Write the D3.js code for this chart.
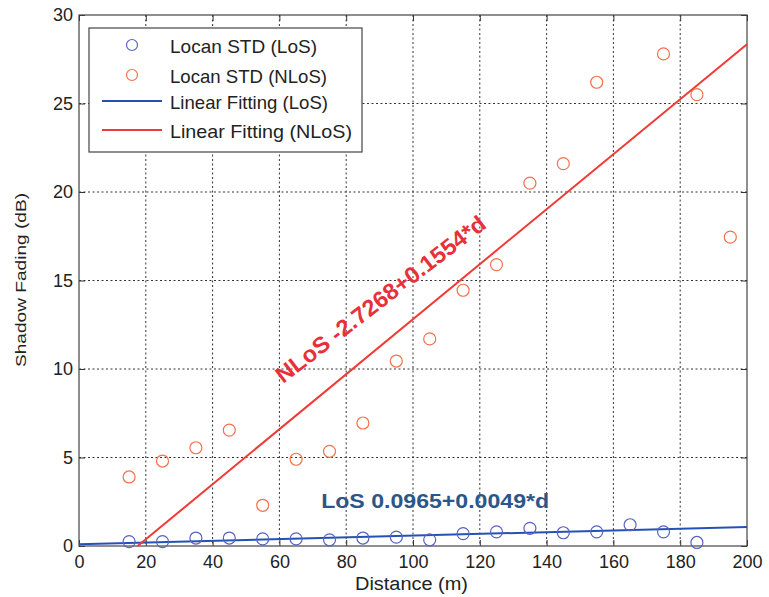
<!DOCTYPE html>
<html><head><meta charset="utf-8">
<script src="https://cdn.jsdelivr.net/npm/d3@7"></script>
<style>body{margin:0;background:#fff}svg{display:block}</style>
</head><body><svg id="c" width="769" height="597"></svg>
<script>
const distances = [15,25,35,45,55,65,75,85,95,105,115,125,135,145,155,165,175,185,195];
const losStd =  [0.25,0.25,0.45,0.45,0.4,0.4,0.35,0.45,0.5,0.35,0.7,0.8,1.0,0.75,0.8,1.2,0.8,0.2,null];
const nlosStd = [3.9,4.8,5.55,6.55,2.3,4.9,5.35,6.95,10.45,11.7,14.45,15.9,20.5,21.6,26.2,null,27.8,25.5,17.45];
const losFit = [0.0965, 0.0049];
const nlosFit = [-2.7268, 0.1554];
const xTicks = [0,20,40,60,80,100,120,140,160,180,200];
const yTicks = [0,5,10,15,20,25,30];
const legendLabels = ["Locan STD (LoS)","Locan STD (NLoS)","Linear Fitting (LoS)","Linear Fitting (NLoS)"];
const nlosLabel = "NLoS -2.7268+0.1554*d";
const losLabel = "LoS 0.0965+0.0049*d";

const svg = d3.select("#c");
const L=79,R=747,T=15,B=546;
const x = d3.scaleLinear().domain([0,200]).range([L,R]);
const y = d3.scaleLinear().domain([0,30]).range([B,T]);
const font = "Liberation Sans, Arial, sans-serif";
const blueM="#5662c4", redM="#f2714f", blueL="#2452b4", redL="#f03a34";

// grid
const g = svg.append("g");
g.selectAll(".gx").data(xTicks.slice(1,-1)).join("line")
 .attr("x1",d=>x(d)).attr("x2",d=>x(d)).attr("y1",T).attr("y2",B)
 .attr("stroke","#333").attr("stroke-width",1).attr("stroke-dasharray","2,2.5");
g.selectAll(".gy").data(yTicks.slice(1,-1)).join("line")
 .attr("y1",d=>y(d)).attr("y2",d=>y(d)).attr("x1",L).attr("x2",R)
 .attr("stroke","#333").attr("stroke-width",1).attr("stroke-dasharray","2,2.5");

// axes
const ax = svg.append("g").attr("transform",`translate(0,${B})`)
 .call(d3.axisBottom(x).tickValues(xTicks).tickSize(-6).tickPadding(9).tickFormat(d3.format("d")));
const ay = svg.append("g").attr("transform",`translate(${L},0)`)
 .call(d3.axisLeft(y).tickValues(yTicks).tickSize(-6).tickPadding(6).tickFormat(d3.format("d")));
svg.append("g").attr("transform",`translate(0,${T})`)
 .call(d3.axisTop(x).tickValues(xTicks).tickSize(-6).tickFormat(""));
svg.append("g").attr("transform",`translate(${R},0)`)
 .call(d3.axisRight(y).tickValues(yTicks).tickSize(-6).tickFormat(""));
svg.selectAll(".domain").remove();
svg.selectAll(".tick line").attr("stroke","#333");
[ax,ay].forEach(a=>a.selectAll("text").attr("font-family",font).attr("font-size",18).attr("fill","#222"));
svg.append("rect").attr("x",L).attr("y",T).attr("width",R-L).attr("height",B-T)
 .attr("fill","none").attr("stroke","#444").attr("stroke-width",1.2);

// fit lines
const line = d3.line().x(d=>x(d[0])).y(d=>y(d[1]));
const losPts = [0,200].map(d=>[d,losFit[0]+losFit[1]*d]);
const x0 = -nlosFit[0]/nlosFit[1];
const nlosPts = [x0,200].map(d=>[d,nlosFit[0]+nlosFit[1]*d]);
svg.append("path").attr("d",line(losPts)).attr("stroke",blueL).attr("stroke-width",2).attr("fill","none");
svg.append("path").attr("d",line(nlosPts)).attr("stroke",redL).attr("stroke-width",2).attr("fill","none");

// points
const losData = distances.map((d,i)=>[d,losStd[i]]).filter(d=>d[1]!=null);
const nlosData = distances.map((d,i)=>[d,nlosStd[i]]).filter(d=>d[1]!=null);
svg.append("g").selectAll("circle").data(losData).join("circle")
 .attr("cx",d=>x(d[0])).attr("cy",d=>y(d[1])).attr("r",6)
 .attr("fill","none").attr("stroke",blueM).attr("stroke-width",1.2);
svg.append("g").selectAll("circle").data(nlosData).join("circle")
 .attr("cx",d=>x(d[0])).attr("cy",d=>y(d[1])).attr("r",6)
 .attr("fill","none").attr("stroke",redM).attr("stroke-width",1.2);

// annotations
svg.append("text").attr("transform",`translate(${x(61.1)},${y(9.15)}) rotate(-37.5)`)
 .attr("font-family",font).attr("font-weight","bold").attr("font-size",23).attr("fill","#e8303a")
 .attr("textLength",258).attr("lengthAdjust","spacingAndGlyphs")
 .text(nlosLabel);
svg.append("text").attr("x",x(72.5)).attr("y",y(2.15))
 .attr("font-family",font).attr("font-weight","bold").attr("font-size",21).attr("fill","#2c5688")
 .attr("textLength",228).attr("lengthAdjust","spacingAndGlyphs")
 .text(losLabel);

// legend
const lg = svg.append("g");
lg.append("rect").attr("x",89).attr("y",28).attr("width",273).attr("height",124)
 .attr("fill","#fff").attr("stroke","#444").attr("stroke-width",1.2);
const rows=[45,75,101,130];
const lens=[147,157,158,182];
legendLabels.forEach((t,i)=>{
  if(i<2){
    lg.append("circle").attr("cx",132).attr("cy",rows[i]).attr("r",5.5)
      .attr("fill","none").attr("stroke",i==0?blueM:redM).attr("stroke-width",1.2);
  } else {
    lg.append("line").attr("x1",102).attr("x2",162).attr("y1",rows[i]).attr("y2",rows[i])
      .attr("stroke",i==2?blueL:redL).attr("stroke-width",2);
  }
  lg.append("text").attr("x",170).attr("y",rows[i]+8).attr("font-family",font).attr("font-size",19)
    .attr("textLength",lens[i]).attr("lengthAdjust","spacingAndGlyphs")
    .attr("fill","#222").text(t);
});

// axis titles
svg.append("text").attr("x",355).attr("y",590)
 .attr("font-family",font).attr("font-size",18).attr("fill","#222")
 .attr("textLength",113).attr("lengthAdjust","spacingAndGlyphs").text("Distance (m)");
svg.append("text").attr("transform",`translate(26,367) rotate(-90)`)
 .attr("font-family",font).attr("font-size",14).attr("fill","#222")
 .attr("textLength",174).attr("lengthAdjust","spacingAndGlyphs").text("Shadow Fading (dB)");
</script></body></html>
